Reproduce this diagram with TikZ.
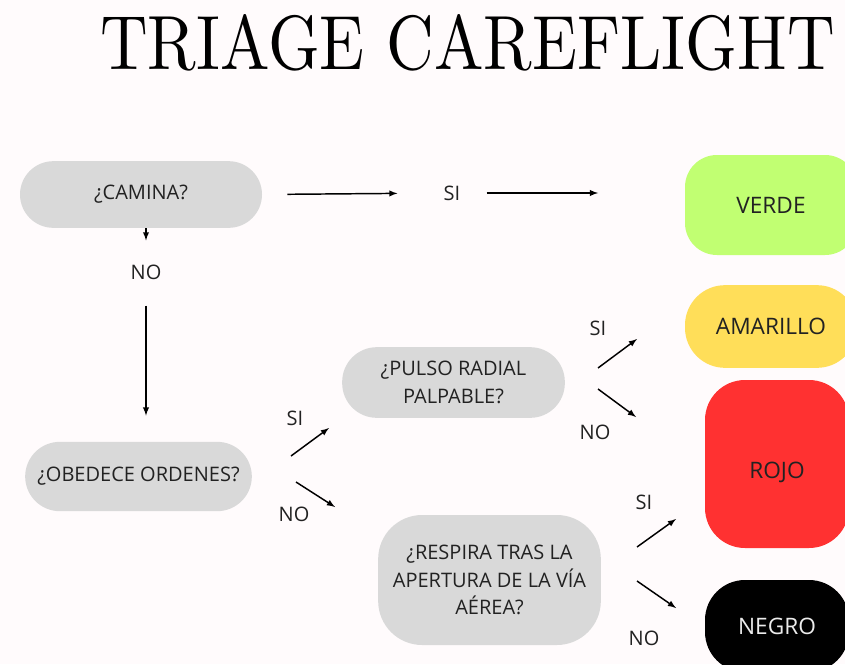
\documentclass[tikz,border=0pt]{standalone}
\usepackage{graphicx}
\usepackage{fontspec}
\newfontfamily\textofont{Open Sans}
\definecolor{fondo}{HTML}{FFFBFC}
\definecolor{gris}{HTML}{D9D9D9}
\definecolor{verde}{HTML}{C1FF72}
\definecolor{amarillo}{HTML}{FFDE59}
\definecolor{rojo}{HTML}{FF3131}
\definecolor{texto}{HTML}{222222}
\tikzset{
    pregunta/.style={fill=gris,text=texto,align=center,inner sep=0pt,
        font=\textofont\fontsize{15}{20.6}\selectfont},
    categoria/.style={text=texto,align=center,inner sep=0pt,
        font=\textofont\fontsize{17}{20.6}\selectfont},
    etiqueta/.style={text=texto,inner sep=0pt,
        font=\textofont\fontsize{15}{20.6}\selectfont},
    flecha/.style={-latex,line width=1.1pt,black}
}
\begin{document}
\begin{tikzpicture}[x=0.75pt,y=-0.75pt]
    %fondo
    \fill[fondo](0,0)rectangle(845,664);
    \clip(0,0)rectangle(845,664);
    %titulo
    \node(titulo)at(467.5,42.5){\resizebox{551pt}{41.25pt}{TRIAGE CAREFLIGHT}};

    %preguntas
    \node[pregunta,rounded corners=25pt,minimum width=181.5pt,minimum height=50pt](camina)at(141,194.5){¿CAMINA?};
    \node[pregunta,rounded corners=26pt,minimum width=167pt,minimum height=53pt](pulso)at(453.5,382.5){¿PULSO RADIAL\\PALPABLE?};
    \node[pregunta,rounded corners=26pt,minimum width=170pt,minimum height=52pt](obedece)at(138.5,476.5){¿OBEDECE ORDENES?};
    \node[pregunta,rounded corners=33pt,minimum width=167pt,minimum height=97.5pt](respira)at(489.5,580){¿RESPIRA TRAS LA\\APERTURA DE LA VÍA\\AÉREA?};

    %categorias
    \node[categoria,fill=verde,rounded corners=24pt,minimum width=129pt,minimum height=75pt](verde)at(771,205){VERDE};
    \node[categoria,fill=amarillo,rounded corners=30pt,minimum width=129pt,minimum height=62pt](amarillo)at(771,326.5){AMARILLO};
    \node[categoria,fill=rojo,rounded corners=30pt,minimum width=108pt,minimum height=126pt](rojo)at(777,464){\raisebox{-10.5pt}[0pt][0pt]{ROJO}};
    \node[categoria,fill=black,text=white!92!black,rounded corners=30pt,minimum width=108pt,minimum height=69pt](negro)at(777,626){NEGRO};

    %etiquetas
    \node[etiqueta](siCamina)at(452,193){SI};
    \node[etiqueta](noCamina)at(146,272){NO};
    \node[etiqueta](siObedece)at(295,418){SI};
    \node[etiqueta](noObedece)at(294,514){NO};
    \node[etiqueta](siPulso)at(598,328){SI};
    \node[etiqueta](noPulso)at(595,432){NO};
    \node[etiqueta](siRespira)at(644,502){SI};
    \node[etiqueta](noRespira)at(644,638){NO};

    %flechas camina
    \draw[flecha,shorten <=18.75pt,shorten >=34.5pt](camina.east)--(siCamina.west);
    \draw[flecha,shorten <=19.5pt,shorten >=65pt](siCamina.east)--(siCamina.east-|verde.west);
    \draw[flecha,shorten >=18pt](noCamina|-camina.south)--(noCamina.north);
    \draw[flecha,shorten <=19.5pt,shorten >=19.5pt](noCamina.south)--(noCamina.south|-obedece.north);

    %flechas diagonales
    \coordinate(obSiA)at(291,456); \coordinate(obSiB)at(329,428);
    \coordinate(obNoA)at(296,482); \coordinate(obNoB)at(335,507);
    \coordinate(puSiA)at(598,368); \coordinate(puSiB)at(637,339);
    \coordinate(puNoA)at(598,389); \coordinate(puNoB)at(636,417);
    \coordinate(reSiA)at(637,547); \coordinate(reSiB)at(676,519);
    \coordinate(reNoA)at(637,581); \coordinate(reNoB)at(676,608);
    \draw[flecha](obSiA)--(obSiB);
    \draw[flecha](obNoA)--(obNoB);
    \draw[flecha](puSiA)--(puSiB);
    \draw[flecha](puNoA)--(puNoB);
    \draw[flecha](reSiA)--(reSiB);
    \draw[flecha](reNoA)--(reNoB);
\end{tikzpicture}
\end{document}
